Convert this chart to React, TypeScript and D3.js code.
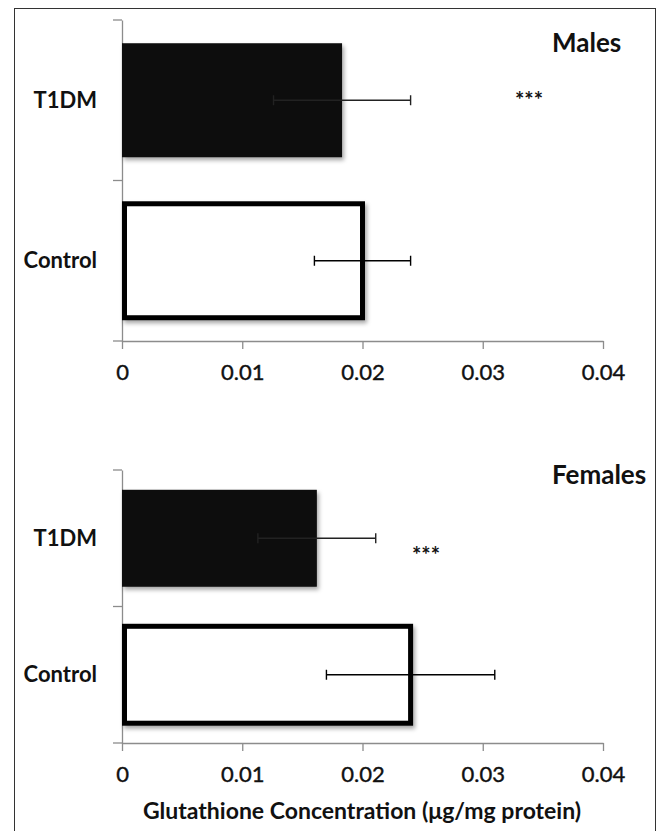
import React, { useEffect, useRef } from "react";
import * as d3 from "d3";

const categories = ["T1DM", "Control"];
const malesMeans = [0.0183, 0.02];
const malesErrors = [0.0057, 0.004];
const femalesMeans = [0.0162, 0.024];
const femalesErrors = [0.0049, 0.007];
const xTicks = [0, 0.01, 0.02, 0.03, 0.04];
const panelTitles = ["Males", "Females"];
const xTitle = "Glutathione  Concentration (μg/mg protein)";

const FONT = "Lato, 'Open Sans', sans-serif";

const App = () => {
  const ref = useRef<SVGSVGElement>(null);

  useEffect(() => {
    const svg = d3.select(ref.current);
    svg.selectAll("*").remove();

    const W = 659;
    const H = 831;

    // shadow under bars
    const defs = svg.append("defs");
    const f = defs.append("filter").attr("id", "shadow").attr("x", "-10%").attr("y", "-10%").attr("width", "130%").attr("height", "140%");
    f.append("feDropShadow").attr("dx", 2).attr("dy", 3).attr("stdDeviation", 2).attr("flood-color", "#000").attr("flood-opacity", 0.35);

    svg.append("rect").attr("width", W).attr("height", H).attr("fill", "#fff");
    svg.append("rect")
      .attr("x", 14.5).attr("y", 8.5).attr("width", 641).attr("height", 840)
      .attr("fill", "none").attr("stroke", "#333").attr("stroke-width", 1);

    const x = d3.scaleLinear().domain([0, 0.04]).range([122, 603]);

    const panels = [
      { means: malesMeans, errors: malesErrors, top: 20, bottom: 341, title: panelTitles[0], titleY: 52, starX: 529, starY: 108 },
      { means: femalesMeans, errors: femalesErrors, top: 470, bottom: 743, title: panelTitles[1], titleY: 484, starX: 426, starY: 563 },
    ];

    panels.forEach((p) => {
      const y = d3.scaleBand().domain(categories).range([p.top, p.bottom]).paddingInner(0.29).paddingOuter(0.145);
      const g = svg.append("g");

      // axes
      const yAxis = g.append("g").attr("transform", "translate(122,0)")
        .call(d3.axisLeft(d3.scaleLinear().domain([0, 1]).range([p.bottom, p.top])).tickValues([]).tickSizeOuter(0));
      yAxis.select(".domain").attr("stroke", "#8c8c8c").attr("stroke-width", 1.3);
      // band separators as ticks
      const sep = [p.top, (p.top + p.bottom) / 2, p.bottom];
      g.selectAll(".ytick").data(sep).enter().append("line")
        .attr("x1", 113).attr("x2", 122).attr("y1", (d) => d).attr("y2", (d) => d)
        .attr("stroke", "#8c8c8c").attr("stroke-width", 1.3);

      const xAxis = g.append("g").attr("transform", `translate(0,${p.bottom})`)
        .call(d3.axisBottom(x).tickValues(xTicks).tickSize(8).tickSizeOuter(0).tickFormat((d) => (d === 0 ? "0" : d3.format(".2f")(d as number))));
      xAxis.select(".domain").attr("stroke", "#8c8c8c").attr("stroke-width", 1.3);
      xAxis.selectAll(".tick line").attr("stroke", "#8c8c8c").attr("stroke-width", 1.3);
      xAxis.selectAll(".tick text")
        .attr("font-family", FONT).attr("font-size", 22).attr("fill", "#111").attr("stroke", "#111").attr("stroke-width", 0.4)
        .attr("y", 23).attr("dy", "0.71em");

      // bars
      g.selectAll(".bar").data(categories).enter().append("rect")
        .attr("x", (d, i) => (i === 0 ? x(0) : x(0) + 2.5))
        .attr("y", (d) => y(d)!)
        .attr("width", (d, i) => x(p.means[i]) - x(0) - (i === 0 ? 0 : 2.5))
        .attr("height", y.bandwidth())
        .attr("fill", (d, i) => (i === 0 ? "#080808" : "#fff"))
        .attr("stroke", (d, i) => (i === 0 ? "none" : "#000"))
        .attr("stroke-width", 5)
        .attr("filter", "url(#shadow)");

      // error bars
      categories.forEach((c, i) => {
        const cy = y(c)! + y.bandwidth() / 2;
        const lo = x(p.means[i] - p.errors[i]);
        const hi = x(p.means[i] + p.errors[i]);
        const eg = g.append("g").attr("stroke", i === 0 ? "#222" : "#000").attr("stroke-width", 1.4);
        eg.append("line").attr("x1", lo).attr("x2", hi).attr("y1", cy).attr("y2", cy);
        eg.append("line").attr("x1", lo).attr("x2", lo).attr("y1", cy - 5).attr("y2", cy + 5);
        eg.append("line").attr("x1", hi).attr("x2", hi).attr("y1", cy - 5).attr("y2", cy + 5);
      });

      // category labels
      g.selectAll(".cat").data(categories).enter().append("text")
        .attr("x", 97).attr("y", (d) => y(d)! + y.bandwidth() / 2)
        .attr("dy", "0.35em").attr("text-anchor", "end")
        .attr("font-family", FONT).attr("font-weight", 700).attr("font-size", 22).attr("fill", "#111")
        .text((d) => d);

      g.append("text").attr("x", 552).attr("y", p.titleY).attr("text-anchor", "start")
        .attr("font-family", FONT).attr("font-weight", 700).attr("font-size", 26).attr("fill", "#111")
        .text(p.title);

      g.append("text").attr("x", p.starX).attr("y", p.starY).attr("text-anchor", "middle")
        .attr("font-family", FONT).attr("font-weight", 700).attr("font-size", 22).attr("fill", "#111")
        .text("***");
    });

    svg.append("text").attr("x", 362).attr("y", 819).attr("text-anchor", "middle")
      .attr("font-family", FONT).attr("font-weight", 700).attr("font-size", 23).attr("fill", "#111")
      .text(xTitle);
  }, []);

  return (
    <svg ref={ref} width={659} height={831} style={{ position: "absolute", left: 0, top: 0 }} />
  );
};

export default App;
